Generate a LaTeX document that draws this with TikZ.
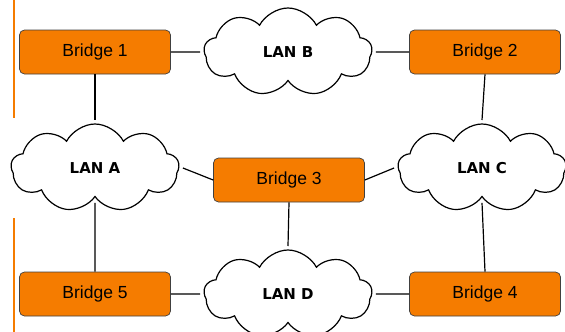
\documentclass[tikz,border=0pt]{standalone}
\usepackage{fontspec}
\setmainfont{Liberation Sans}
\newfontfamily\lanfont{DejaVu Sans}
\usetikzlibrary{shapes.symbols}
\definecolor{bridgeorange}{RGB}{245,124,0}
\begin{document}
\begin{tikzpicture}[x=1pt,y=-1pt,
  bridge/.style={draw=black!75,fill=bridgeorange,rounded corners=5pt,line width=0.7pt,
    minimum width=151pt,minimum height=44pt,inner sep=0pt,font=\fontsize{17.5}{20}\selectfont},
  lan/.style={cloud,cloud puffs=9,cloud puff arc=125,aspect=1.9,draw=black,line width=1.2pt,fill=white,
    minimum width=168pt,minimum height=88pt,inner sep=0pt,font=\lanfont\fontsize{15}{17}\selectfont\bfseries,outer sep=4pt},
  link/.style={draw=black,line width=1.2pt}]
\useasboundingbox (0,0) rectangle (565,332);
\draw[draw=bridgeorange,line width=2pt] (14,0) -- (14,118);
\draw[draw=bridgeorange,line width=2pt] (14,218) -- (14,332);
\node[bridge] (b1) at (95,52) {Bridge 1};
\node[bridge] (b2) at (485,52) {Bridge 2};
\node[bridge] (b3) at (289,180) {Bridge 3};
\node[bridge] (b5) at (95,294) {Bridge 5};
\node[bridge] (b4) at (485,294) {Bridge 4};
\node[lan] (la) at (95,168) {LAN A};
\node[lan] (lb) at (288,52) {LAN B};
\node[lan] (lc) at (482,168) {LAN C};
\node[lan] (ld) at (288,294) {LAN D};
\draw[link] (b1.east) -- (lb.west);
\draw[link] (lb.east) -- (b2.west);
\draw[link] (b1.south) -- (la.north);
\draw[link] (b2.south) -- (lc.north);
\draw[link] (la.east) -- (b3.west);
\draw[link] (b3.east) -- (lc.west);
\draw[link] (b3.south) -- (ld.north);
\draw[link] (la.south) -- (b5.north);
\draw[link] (lc.south) -- (b4.north);
\draw[link] (b5.east) -- (ld.west);
\draw[link] (ld.east) -- (b4.west);
\end{tikzpicture}
\end{document}
